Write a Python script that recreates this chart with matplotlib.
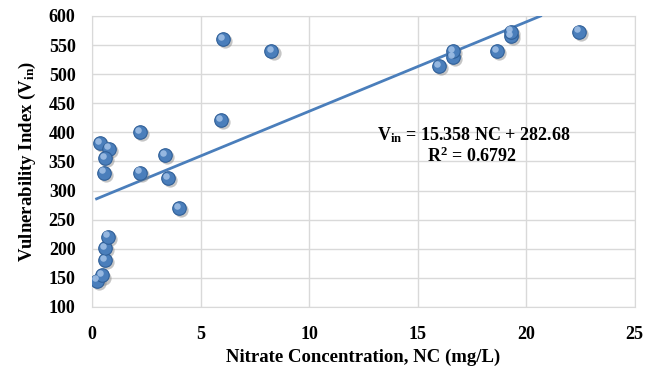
import matplotlib.pyplot as plt
import matplotlib.transforms as mtransforms
import numpy as np

# Nitrate concentration (mg/L) and vulnerability index
nc = [0.22, 0.34, 0.46, 0.57, 0.60, 0.74,
      0.75, 0.57, 0.52, 2.21, 2.21, 3.36, 3.47, 4.01,
      5.93, 6.02, 8.26,
      15.96, 16.62, 16.62, 18.65, 19.29, 19.29, 22.44]
vin = [145, 381, 154, 181, 201, 221,
       372, 356, 331, 400, 331, 361, 321, 270,
       421, 560, 540,
       514, 529, 540, 540, 565, 573, 573]

slope = 15.358
intercept = 282.68

plt.rcParams['font.family'] = ['Liberation Serif', 'DejaVu Serif']
plt.rcParams['font.weight'] = 'bold'
plt.rcParams['mathtext.fontset'] = 'custom'
plt.rcParams['mathtext.rm'] = 'Liberation Serif'
plt.rcParams['mathtext.bf'] = 'Liberation Serif:bold'
plt.rcParams['mathtext.it'] = 'Liberation Serif:italic'

fig = plt.figure(figsize=(6.45, 3.72), dpi=100)
ax = fig.add_axes([0.143, 0.175, 0.841, 0.782])

blue = '#4a7ebb'

# trend line
x_line = np.array([0.2, (600 - intercept) / slope])
ax.plot(x_line, slope * x_line + intercept, color=blue, lw=2.0, zorder=3)

# sphere-like markers: shadow, body, highlight
shadow = mtransforms.offset_copy(ax.transData, fig=fig, x=1.5, y=-1.5, units='points')
ax.scatter(nc, vin, s=105, color='#7f7f7f', alpha=0.45, linewidths=0,
           transform=shadow, zorder=4)
ax.scatter(nc, vin, s=95, color=blue, edgecolors='#2f5f98', linewidths=0.8, zorder=5)
hl = mtransforms.offset_copy(ax.transData, fig=fig, x=-1.3, y=1.6, units='points')
ax.scatter(nc, vin, s=22, color='#a9c6ea', alpha=0.8, linewidths=0,
           transform=hl, zorder=6)

ax.set_xlim(0, 25)
ax.set_ylim(100, 600)
ax.set_xticks(range(0, 26, 5))
ax.set_yticks(range(100, 601, 50))
ax.grid(True, color='#d9d9d9', lw=1.0)
ax.set_axisbelow(True)
for sp in ax.spines.values():
    sp.set_color('#d9d9d9')
ax.tick_params(length=0, labelsize=13)
ax.tick_params(axis='x', pad=14)
ax.tick_params(axis='y', pad=12)
for lab in ax.get_xticklabels() + ax.get_yticklabels():
    lab.set_fontweight('bold')

ax.set_xlabel('Nitrate Concentration, NC (mg/L)', fontsize=13.5, fontweight='bold', labelpad=4)
ax.set_ylabel(r'Vulnerability Index (V$_{\mathbf{in}}$)', fontsize=13.5, fontweight='bold', labelpad=8)

ax.text(17.6, 395, r'V$_{\mathbf{in}}$ = 15.358 NC + 282.68', fontsize=13, fontweight='bold',
        ha='center', va='center')
ax.text(17.5, 358, r'R$^{\mathbf{2}}$ = 0.6792', fontsize=13, fontweight='bold',
        ha='center', va='center')

fig.savefig('out.png', dpi=100)
